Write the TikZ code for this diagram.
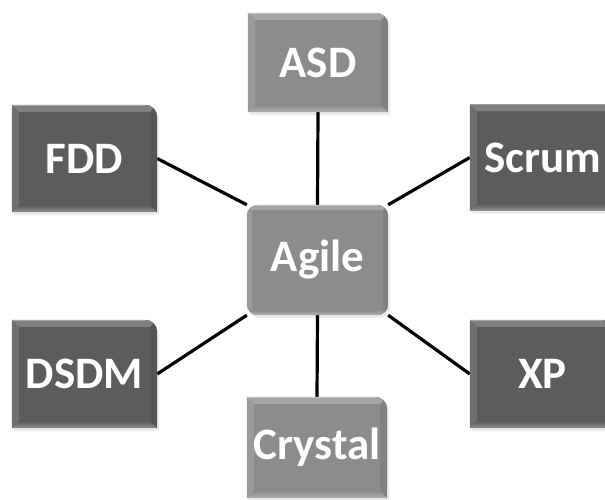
\documentclass[tikz,border=0pt]{standalone}
\usepackage{fontspec}
\setmainfont{Carlito}
\usetikzlibrary{calc}
\pgfdeclarelayer{bg}
\pgfsetlayers{bg,main}

\definecolor{lightbox}{RGB}{140,140,140}
\definecolor{darkbox}{RGB}{92,92,92}

\tikzset{
  label text/.style={font=\bfseries\fontsize{45}{45}\selectfont, text=white, inner sep=0pt},
  link/.style={line width=3.2pt, black},
}

% Bevelled box behind a named node: #1 node, #2 face colour,
% #3 top-right radius, #4 radius of the other corners, #5 bevel width
\newcommand\bevelbox[5]{%
  \coordinate (bbnw) at (#1.north west);
  \coordinate (bbne) at (#1.north east);
  \coordinate (bbsw) at (#1.south west);
  \coordinate (bbse) at (#1.south east);
  \fill[black, opacity=0.08] [rounded corners=#4] ($(bbsw)+(2,3)$) -- ($(bbnw)+(2,3)$)
     [rounded corners=#3] -- ($(bbne)+(2,3)$) [rounded corners=#4] -- ($(bbse)+(2,3)$) -- cycle;
  \begin{scope}
    \clip[rounded corners=#4] (bbsw) -- (bbnw) [rounded corners=#3] -- (bbne)
       [rounded corners=#4] -- (bbse) -- cycle;
    \fill[#2] (bbsw) rectangle (bbne);
    % top face
    \fill[#2!78!white] (bbnw) -- (bbne) -- ($(bbne)+(-#5,#5)$) -- ($(bbnw)+(#5,#5)$) -- cycle;
    % left face
    \fill[#2!88!white] (bbnw) -- ($(bbnw)+(#5,#5)$) -- ($(bbsw)+(#5,-#5)$) -- (bbsw) -- cycle;
    % right face
    \fill[#2!92!black] (bbne) -- ($(bbne)+(-#5,#5)$) -- ($(bbse)+(-#5,-#5)$) -- (bbse) -- cycle;
    % bottom face
    \shade[top color=#2, bottom color=#2!68!white]
      (bbsw) -- ($(bbsw)+(#5,-#5)$) -- ($(bbse)+(-#5,-#5)$) -- (bbse) -- cycle;
    % highlight along the top edge
    \draw[white, opacity=0.3, line width=1pt] ($(bbnw)+(0,0.6)$) -- ($(bbne)+(-#3,0.6)$);
  \end{scope}
}

\begin{document}
\begin{tikzpicture}[x=1pt,y=-1pt]
  \useasboundingbox (0,0) rectangle (605,499);
  \clip (0,0) rectangle (605,499);

  % labelled boxes (centre, width, height)
  \node[label text, minimum width=141pt, minimum height=110pt] (agile)   at (317.5,260) {Agile};
  \node[label text, minimum width=140pt, minimum height=99pt]  (asd)     at (318,62.5)  {ASD};
  \node[label text, minimum width=145pt, minimum height=107pt] (fdd)     at (84.5,158.5) {FDD};
  \node[label text, minimum width=145pt, minimum height=106pt] (scrum)   at (542.5,157.5) {Scrum};
  \node[label text, minimum width=145pt, minimum height=108pt] (dsdm)    at (84.5,374) {DSDM};
  \node[label text, minimum width=145pt, minimum height=108pt] (xp)      at (542.5,374) {XP};
  \node[label text, minimum width=140pt, minimum height=101pt] (crystal) at (317,447.5) {Crystal};

  \begin{pgfonlayer}{bg}
    % spokes from the hub to each method
    \draw[link] (asd.south)   -- (agile.north);
    \draw[link] (fdd.east)    -- (agile.north west);
    \draw[link] (scrum.west)  -- (agile.north east);
    \draw[link] (dsdm.east)   -- (agile.south west);
    \draw[link] (xp.west)     -- (agile.south east);
    \draw[link] (agile.south) -- (crystal.north);

    \bevelbox{asd}{lightbox}{12pt}{0.01pt}{7}
    \bevelbox{fdd}{darkbox}{12pt}{0.01pt}{7}
    \bevelbox{scrum}{darkbox}{12pt}{0.01pt}{7}
    \bevelbox{dsdm}{darkbox}{12pt}{0.01pt}{7}
    \bevelbox{xp}{darkbox}{12pt}{0.01pt}{7}
    \bevelbox{crystal}{lightbox}{12pt}{0.01pt}{7}
    \bevelbox{agile}{lightbox}{11pt}{11pt}{5}
  \end{pgfonlayer}
\end{tikzpicture}
\end{document}
